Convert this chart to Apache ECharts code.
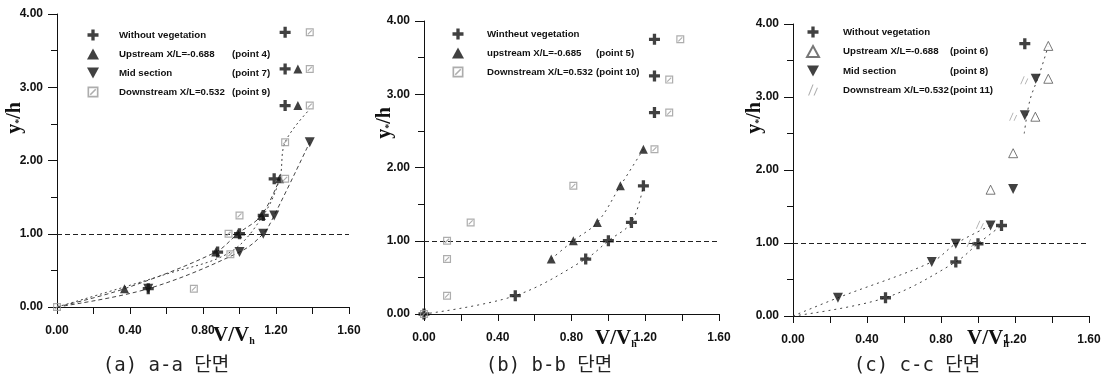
<!DOCTYPE html>
<html><head><meta charset="utf-8">
<script src="https://cdn.jsdelivr.net/npm/echarts@6/dist/echarts.min.js"></script>
<style>html,body{margin:0;padding:0;background:#fff}#c{width:1105px;height:389px}</style>
</head><body><div id="c"></div>
<script>
// ---------- data ----------
const captions = ['(a) a-a 단면', '(b) b-b 단면', '(c) c-c 단면'];
const xTickLabels = ['0.00', '0.40', '0.80', '1.20', '1.60'];
const yTickLabels = ['0.00', '1.00', '2.00', '3.00', '4.00'];
const origin = [[0, 0]];
const refLevel = 1.0;

// Panel (a)
const legendA = ['Without vegetation', 'Upstream X/L=-0.688', 'Mid section', 'Downstream X/L=0.532'];
const pointA = ['', '(point 4)', '(point 7)', '(point 9)'];
const plusA = [[0.50, 0.25], [0.88, 0.75], [1.00, 1.00], [1.13, 1.25], [1.19, 1.75], [1.25, 2.75], [1.25, 3.25], [1.25, 3.75]];
const upA = [[0.37, 0.25], [0.87, 0.75], [0.99, 1.00], [1.12, 1.25], [1.22, 1.75], [1.32, 2.75], [1.32, 3.25]];
const midA = [[0.50, 0.25], [1.00, 0.75], [1.13, 1.00], [1.19, 1.25], [1.385, 2.25]];
const downA = [[0, 0], [0.75, 0.25], [0.95, 0.72], [0.94, 1.00], [1.00, 1.25], [1.25, 1.75], [1.25, 2.25], [1.385, 2.75], [1.385, 3.25], [1.385, 3.75]];
const fitDownA = [[0, 0], [0.60, 0.45], [0.95, 0.75], [1.13, 1.25], [1.22, 1.75], [1.25, 2.25], [1.385, 2.70]];

// Panel (b)
const legendB = ['Wintheut vegetation', 'upstream X/L=-0.685', 'Downstream X/L=0.532'];
const pointB = ['', '(point 5)', '(point 10)'];
const plusB = [[0.495, 0.25], [0.877, 0.75], [1.00, 1.00], [1.125, 1.25], [1.19, 1.75], [1.25, 2.75], [1.25, 3.25], [1.25, 3.75]];
const upB = [[0.69, 0.75], [0.81, 1.00], [0.94, 1.25], [1.065, 1.75], [1.19, 2.25]];
const downB = [[0, 0], [0.125, 0.25], [0.125, 0.75], [0.125, 1.00], [0.253, 1.25], [0.81, 1.75], [1.25, 2.25], [1.33, 2.75], [1.33, 3.20], [1.39, 3.75]];

// Panel (c)
const legendC = ['Without vegetation', 'Upstream X/L=-0.688', 'Mid section', 'Downstream X/L=0.532'];
const pointC = ['', '(point 6)', '(point 8)', '(point 11)'];
const plusC = [[0.50, 0.25], [0.88, 0.74], [1.00, 0.99], [1.127, 1.24], [1.253, 3.73]];
const upC = [[1.068, 1.73], [1.19, 2.23], [1.31, 2.73], [1.38, 3.25], [1.38, 3.70]];
const midC = [[0.243, 0.25], [0.75, 0.74], [0.88, 0.99], [1.068, 1.24], [1.19, 1.74], [1.253, 2.75], [1.312, 3.25]];
const downC = [[0.96, 1.00], [1.01, 1.25], [1.19, 2.73], [1.25, 3.23]];
const fitUpperC = [[1.25, 2.50], [1.28, 2.95], [1.33, 3.30], [1.38, 3.70]];

// ---------- styles ----------
const SYM = {
  plus: { symbol: 'path://M3.5,0H6.5V3.5H10V6.5H6.5V10H3.5V6.5H0V3.5H3.5Z', symbolSize: 11, itemStyle: { color: '#111' } },
  up: { symbol: 'triangle', symbolSize: 9, itemStyle: { color: '#111' } },
  upOpen: { symbol: 'triangle', symbolSize: 9, itemStyle: { color: '#fff', borderColor: '#555', borderWidth: 1 } },
  mid: { symbol: 'path://M0,0H10L5,9Z', symbolSize: 10, itemStyle: { color: '#111' } },
  down: { symbol: 'path://M0,0H10V10H0Z M1.5,1.5V8.5H8.5V1.5Z M2,7L7,2L8,3L3,8Z', symbolSize: 8, itemStyle: { color: '#999' } },
  downLight: { symbol: 'path://M0,10L4,0L5,0L1,10Z M5,10L8,3L9,3L6,10Z', symbolSize: 8, itemStyle: { color: '#999' } }
};

const grids = [
  { left: 57, top: 14, width: 292, height: 293 },
  { left: 424, top: 21, width: 295, height: 293 },
  { left: 793, top: 24, width: 296, height: 292 }
];

const labelFont = { fontFamily: 'Liberation Sans, Arial, sans-serif', fontWeight: 'bold', fontSize: 12, color: '#111' };

const xAxes = grids.map((g, i) => ({
  type: 'value', gridIndex: i, min: 0, max: 1.6, interval: 0.4,
  axisLine: { show: true, onZero: false, lineStyle: { color: '#111', width: 1 } },
  axisTick: { show: true, length: 7, lineStyle: { color: '#111' } },
  minorTick: { show: true, splitNumber: 2, length: 7, lineStyle: { color: '#111' } },
  splitLine: { show: false },
  axisLabel: Object.assign({ margin: 18, formatter: (v) => xTickLabels[Math.round(v / 0.4)] }, labelFont)
}));
const yAxes = grids.map((g, i) => ({
  type: 'value', gridIndex: i, min: 0, max: 4, interval: 1,
  axisLine: { show: true, onZero: false, lineStyle: { color: '#111', width: 1 } },
  axisTick: { show: true, length: 9, lineStyle: { color: '#111' } },
  minorTick: { show: true, splitNumber: 2, length: 6, lineStyle: { color: '#111' } },
  splitLine: { show: false },
  axisLabel: Object.assign({ margin: 14, formatter: (v) => yTickLabels[Math.round(v)] }, labelFont)
}));

const series = [];
function addScatter(name, gi, data, sym) {
  series.push(Object.assign({ type: 'scatter', name: name, xAxisIndex: gi, yAxisIndex: gi, data: data, z: 5 }, JSON.parse(JSON.stringify(sym))));
}
function addCurve(gi, data, dash) {
  series.push({
    type: 'line', xAxisIndex: gi, yAxisIndex: gi, data: data, smooth: 0.35, showSymbol: false, silent: true,
    lineStyle: { type: dash || [4, 3], width: 1, color: '#444' }, z: 3
  });
}
function addRef(gi) {
  series.push({
    type: 'line', xAxisIndex: gi, yAxisIndex: gi, data: [], silent: true,
    markLine: { silent: true, symbol: 'none', label: { show: false }, animation: false,
      lineStyle: { type: [5, 3], color: '#222', width: 1 }, data: [{ yAxis: refLevel }] }
  });
}

// panel a
addScatter('a0', 0, plusA, SYM.plus);
addScatter('a1', 0, upA, SYM.up);
addScatter('a2', 0, midA, SYM.mid);
addScatter('a3', 0, downA, SYM.down);
addCurve(0, origin.concat(upA.slice(0, 5)));
addCurve(0, origin.concat(midA));
addCurve(0, fitDownA, [2, 3]);
addRef(0);
// panel b
addScatter('b0', 1, origin.concat(plusB), SYM.plus);
addScatter('b1', 1, upB, SYM.up);
addScatter('b2', 1, downB, SYM.down);
addCurve(1, origin.concat(plusB.slice(0, 5)), [2, 4]);
addCurve(1, upB, [2, 4]);
addRef(1);
// panel c
addScatter('c0', 2, plusC, SYM.plus);
addScatter('c1', 2, upC, SYM.upOpen);
addScatter('c2', 2, midC, SYM.mid);
addScatter('c3', 2, downC, SYM.downLight);
addCurve(2, origin.concat(plusC.slice(0, 4)), [2, 4]);
addCurve(2, origin.concat(midC.slice(0, 4)), [2, 4]);
addCurve(2, fitUpperC, [2, 4]);
addRef(2);

const legTexts = { a: [legendA, pointA], b: [legendB, pointB], c: [legendC, pointC] };
function mkLegend(p, n, left, top, pad, colW) {
  const names = [];
  for (let i = 0; i < n; i++) names.push(p + i);
  const rf = { fontFamily: 'Liberation Sans, Arial, sans-serif', fontWeight: 'bold', fontSize: 9.7, color: '#111', lineHeight: 12 };
  return {
    data: names, orient: 'vertical', left: left, top: top, itemWidth: 12, itemHeight: 11, itemGap: 7,
    selectedMode: false, padding: 0,
    formatter: (name) => {
      const i = +name.slice(1);
      const L = legTexts[p];
      return L[1][i] ? '{n|' + L[0][i] + '}{p|' + L[1][i] + '}' : '{n|' + L[0][i] + '}';
    },
    textStyle: Object.assign({ padding: [0, 0, 0, pad], rich: { n: Object.assign({ width: colW }, rf), p: Object.assign({}, rf) } }, rf)
  };
}

const serif = 'Liberation Serif, DejaVu Serif, serif';
const graphics = [];
const yTitlePos = [[15, 118], [385, 123], [755, 118]];
const xTitlePos = [[213, 336], [595, 339], [967, 339]];
const capPos = [[166, 366], [549, 366], [917, 366]];
for (let i = 0; i < 3; i++) {
  graphics.push({ type: 'text', x: yTitlePos[i][0], y: yTitlePos[i][1], rotation: Math.PI / 2,
    style: { text: '{a|y}{b|*}{a|/h}', align: 'center', verticalAlign: 'middle',
      rich: { a: { fontFamily: serif, fontWeight: 'bold', fontSize: 20, fill: '#111' },
              b: { fontFamily: serif, fontWeight: 'bold', fontSize: 10, fill: '#111', padding: [8, 0, 0, 0] } } } });
  graphics.push({ type: 'text', x: xTitlePos[i][0], y: xTitlePos[i][1],
    style: { text: '{a|V/V}{b|h}', align: 'left', verticalAlign: 'middle',
      rich: { a: { fontFamily: serif, fontWeight: 'bold', fontSize: 21, fill: '#111' },
              b: { fontFamily: serif, fontWeight: 'bold', fontSize: 10, fill: '#111', padding: [10, 0, 0, 0] } } } });
  graphics.push({ type: 'text', x: capPos[i][0], y: capPos[i][1],
    style: { text: captions[i], align: 'center', verticalAlign: 'middle',
      fontFamily: 'DejaVu Sans Mono, Noto Sans CJK KR, monospace', fontSize: 19, fill: '#222' } });
}

const chart = echarts.init(document.getElementById('c'), null, { renderer: 'canvas' });
chart.setOption({
  backgroundColor: '#fff',
  animation: false,
  grid: grids,
  xAxis: xAxes,
  yAxis: yAxes,
  legend: [
    mkLegend('a', 4, 87, 29, 15, 113),
    mkLegend('b', 3, 452, 28, 18, 109),
    mkLegend('c', 4, 806, 26, 19, 107)
  ],
  series: series,
  graphic: graphics
});
</script>
</body></html>
